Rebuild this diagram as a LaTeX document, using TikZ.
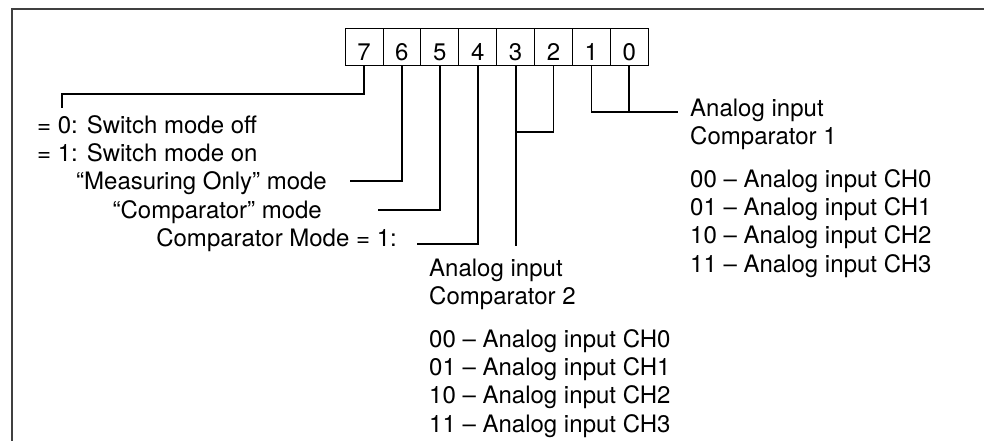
\documentclass[tikz,border=0pt]{standalone}
\usepackage{fontspec}
\setmainfont{TeX Gyre Heros}
\begin{document}
\begin{tikzpicture}[x=1pt, y=-1pt,
    every node/.style={font=\fontsize{24}{28.3}\selectfont},
    wire/.style={line width=1.8pt, line join=miter},
    bitbox/.style={draw, line width=0.9pt, minimum width=37.9pt, minimum height=37pt,
        inner sep=0pt, text height=29pt, text depth=0pt},
    lbl/.style={inner sep=0pt, text height=17pt, text depth=0pt},
    blk/.style={inner sep=0pt, align=left, anchor=north west}]
    \useasboundingbox (0,0) rectangle (984,441);
    \draw[line width=1.4pt, black!75] (984,9) -- (12,9) -- (12,441);
    % register bits
    \node[bitbox] (b7) at (364.0,46.5) {7};
    \node[bitbox] (b6) at (401.9,46.5) {6};
    \node[bitbox] (b5) at (439.8,46.5) {5};
    \node[bitbox] (b4) at (477.7,46.5) {4};
    \node[bitbox] (b3) at (515.6,46.5) {3};
    \node[bitbox] (b2) at (553.5,46.5) {2};
    \node[bitbox] (b1) at (591.4,46.5) {1};
    \node[bitbox] (b0) at (629.3,46.5) {0};
    % texts
    \node[lbl, anchor=west] (sw0) at (37,125) {= 0: Switch mode off};
    \node[lbl, anchor=west] (sw1) at (37,153) {= 1: Switch mode on};
    \node[lbl, anchor=east] (meas) at (327,181) {“Measuring Only” mode};
    \node[lbl, anchor=east] (comp) at (322,210) {“Comparator” mode};
    \node[lbl, anchor=east] (cmode) at (397,238) {Comparator Mode = 1:};
    \node[blk] (cmp1) at (690,98.5) {Analog input\\Comparator 1\\[14.5pt]
        00 – Analog input CH0\\01 – Analog input CH1\\10 – Analog input CH2\\11 – Analog input CH3};
    \node[blk] (cmp2) at (429,258.5) {Analog input\\Comparator 2\\[14.5pt]
        00 – Analog input CH0\\01 – Analog input CH1\\10 – Analog input CH2\\11 – Analog input CH3};
    % connectors
    \coordinate (h7) at (62,108);
    \coordinate (e4) at (417,244);
    \coordinate (j1) at (678,112);
    \draw[wire] (b7.south) |- (h7 |- 0,94) -- (h7);
    \draw[wire] (b6.south) |- ([xshift=23pt]meas.east);
    \draw[wire] (b5.south) |- ([xshift=56pt]comp.east);
    \draw[wire] (b4.south) |- (e4);
    \draw[wire] (b3.south) -- (b3.south |- 0,246);
    \draw[wire] (b2.south) |- (b3.south |- 0,132);
    \draw[wire] (b1.south) |- (j1);
    \draw[wire] (b0.south) -- (b0.south |- j1);
\end{tikzpicture}
\end{document}
